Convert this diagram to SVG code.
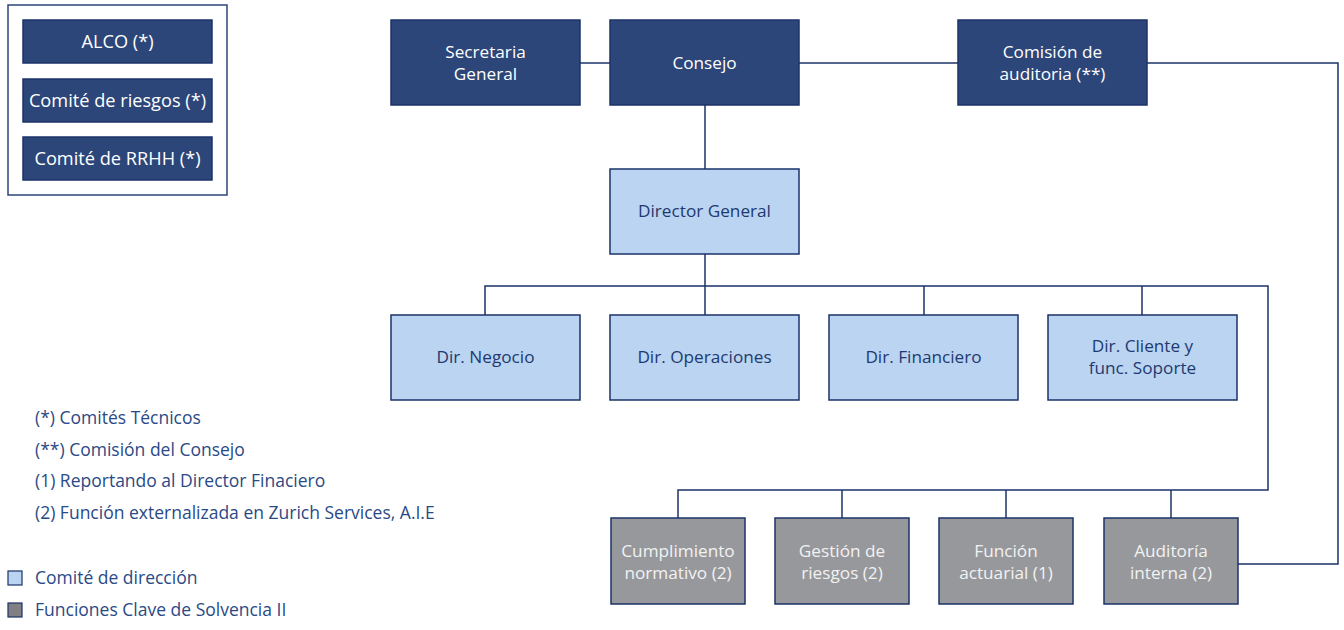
<svg xmlns="http://www.w3.org/2000/svg" width="1344" height="630" viewBox="0 0 1344 630">
<style>
text{font-family:"Open Sans","Noto Sans","Liberation Sans",sans-serif;font-size:17.2px;text-anchor:middle}
.dark rect{fill:#2c4679;stroke:#1b3368;stroke-width:1.5}
.dark text{fill:#ffffff}
.committee text{font-size:18.2px}
.light rect{fill:#bad4f1;stroke:#1b3368;stroke-width:1.5}
.light text{fill:#1f3a70}
.gray rect{fill:#97989c;stroke:#1b3368;stroke-width:1.5}
.gray text{fill:#f2f2f2}
.note{fill:#2a4a85;text-anchor:start;font-size:17.5px}
.conn{fill:none;stroke:#1b3368;stroke-width:1.5}
</style>
<rect x="8" y="5" width="219" height="190" fill="#fff" stroke="#2c4679" stroke-width="1.5"/>
<g id="alco" class="dark committee"><rect x="23" y="20" width="189" height="43"/><text x="117.5" y="48">ALCO (*)</text></g>
<g id="riesgos" class="dark committee"><rect x="23" y="79" width="189" height="43"/><text x="117.5" y="107">Comité de riesgos (*)</text></g>
<g id="rrhh" class="dark committee"><rect x="23" y="137" width="189" height="43"/><text x="117.5" y="165">Comité de RRHH (*)</text></g>

<g id="connectors" class="conn">
<path d="M580 63H610"/>
<path d="M799 63H958"/>
<path d="M1147 63H1338V564H1238"/>
<path d="M705 105V169"/>
<path d="M705 254V315"/>
<path d="M485 315V286H1268V490H678V518"/>
<path d="M924 286V315"/>
<path d="M1142 286V315"/>
<path d="M842 490V518"/>
<path d="M1006 490V518"/>
<path d="M1171 490V518"/>
</g>

<g id="secretaria" class="dark"><rect x="391" y="20" width="189" height="85"/><text x="485.5" y="58">Secretaria</text><text x="485.5" y="80">General</text></g>
<g id="consejo" class="dark"><rect x="610" y="20" width="189" height="85"/><text x="704.5" y="69">Consejo</text></g>
<g id="comision" class="dark"><rect x="958" y="20" width="189" height="85"/><text x="1052.5" y="58">Comisión de</text><text x="1052.5" y="80">auditoria (**)</text></g>

<g id="director" class="light"><rect x="610" y="169" width="189" height="85"/><text x="704.5" y="217">Director General</text></g>
<g id="negocio" class="light"><rect x="391" y="315" width="189" height="85"/><text x="485.5" y="363">Dir. Negocio</text></g>
<g id="operaciones" class="light"><rect x="610" y="315" width="189" height="85"/><text x="704.5" y="363">Dir. Operaciones</text></g>
<g id="financiero" class="light"><rect x="829" y="315" width="189" height="85"/><text x="923.5" y="363">Dir. Financiero</text></g>
<g id="cliente" class="light"><rect x="1048" y="315" width="189" height="85"/><text x="1142.5" y="352">Dir. Cliente y</text><text x="1142.5" y="374">func. Soporte</text></g>

<g id="cumplimiento" class="gray"><rect x="611" y="518" width="134" height="86"/><text x="678" y="557">Cumplimiento</text><text x="678" y="579">normativo (2)</text></g>
<g id="gestion" class="gray"><rect x="775" y="518" width="134" height="86"/><text x="842" y="557">Gestión de</text><text x="842" y="579">riesgos (2)</text></g>
<g id="funcion" class="gray"><rect x="939" y="518" width="134" height="86"/><text x="1006" y="557">Función</text><text x="1006" y="579">actuarial (1)</text></g>
<g id="auditoria" class="gray"><rect x="1104" y="518" width="134" height="86"/><text x="1171" y="557">Auditoría</text><text x="1171" y="579">interna (2)</text></g>

<g id="notes">
<text class="note" x="35" y="424">(*) Comités Técnicos</text>
<text class="note" x="35" y="456">(**) Comisión del Consejo</text>
<text class="note" x="35" y="487">(1) Reportando al Director Finaciero</text>
<text class="note" x="35" y="519">(2) Función externalizada en Zurich Services, A.I.E</text>
</g>
<g id="legend">
<rect x="8" y="571" width="14" height="14" fill="#bad4f1" stroke="#1b3368" stroke-width="1.2"/>
<text class="note" x="35" y="584">Comité de dirección</text>
<rect x="8" y="603" width="14" height="14" fill="#808084" stroke="#1b3368" stroke-width="1.2"/>
<text class="note" x="35" y="616">Funciones Clave de Solvencia II</text>
</g>
</svg>
